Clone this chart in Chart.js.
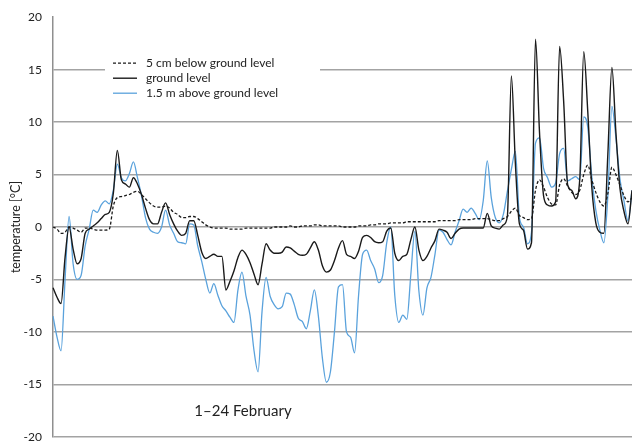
<!DOCTYPE html>
<html>
<head>
<meta charset="utf-8">
<script src="https://cdn.jsdelivr.net/npm/chart.js@4"></script>
<style>
  html, body { margin: 0; padding: 0; background: #fff; overflow: hidden; }
  #wrap { width: 632px; height: 441px; overflow: hidden; }
  #c { display: block; margin-top: -1px; }
</style>
</head>
<body>
<div id="wrap"><canvas id="c" width="632" height="456"></canvas></div>
<script>
// Time axis: hours since 1 February 00:00, 4-hour steps
const hours = [
  0,4,8,12,16,20,24,28,32,36,40,44,48,52,56,60,64,68,72,76,80,84,88,92,
  96,100,104,108,112,116,120,124,128,132,136,140,144,148,152,156,160,164,168,172,176,180,184,188,
  192,196,200,204,208,212,216,220,224,228,232,236,240,244,248,252,256,260,264,268,272,276,280,284,
  288,292,296,300,304,308,312,316,320,324,328,332,336,340,344,348,352,356,360,364,368,372,376,380,
  384,388,392,396,400,404,408,412,416,420,424,428,432,436,440,444,448,452,456,460,464,468,472,476,
  480,484,488,492,496,500,504,508,512,516,520,524,528,532,536,540,544,548,552,556,560,564,568,572,
  576
];

// Temperature 5 cm below ground level [°C]
const below5cm = [
  0.0,-0.2,-0.6,-0.5,0.0,-0.1,-0.3,-0.5,-0.1,-0.1,
  -0.2,-0.3,-0.3,-0.3,-0.2,2.0,2.8,2.9,3.0,3.1,
  3.3,3.4,3.1,2.7,2.3,2.0,1.9,1.9,2.0,1.8,
  1.4,1.2,0.9,0.9,1.0,1.0,0.8,0.5,0.2,0.0,
  -0.1,-0.1,-0.1,-0.1,-0.2,-0.2,-0.2,-0.2,-0.1,-0.1,
  -0.1,-0.1,-0.1,-0.1,-0.1,0.0,0.0,0.0,0.0,0.1,
  0.0,0.0,0.1,0.1,0.1,0.2,0.2,0.1,0.1,0.1,
  0.1,0.1,0.0,0.0,0.0,0.0,0.1,0.1,0.1,0.2,
  0.2,0.3,0.3,0.3,0.4,0.4,0.4,0.4,0.5,0.5,
  0.5,0.5,0.5,0.5,0.5,0.5,0.6,0.6,0.6,0.6,
  0.6,0.7,0.7,0.7,0.7,0.8,0.8,0.8,0.8,0.7,
  0.6,0.6,0.8,1.0,1.5,1.8,1.1,0.9,0.7,0.8,
  3.5,4.5,3.8,2.8,2.2,2.1,4.0,4.6,3.9,3.3,
  3.1,3.5,5.0,5.9,4.5,3.3,2.4,2.0,3.2,5.7,
  5.0,4.0,3.0,2.4,2.8
];

// Temperature at ground level [°C]
const groundLevel = [
  -5.8,-6.7,-7.3,-2.9,0.0,-2.1,-3.5,-3.0,-0.6,-0.2,
  0.1,0.4,0.8,1.2,1.4,3.2,7.3,4.5,4.1,3.8,
  4.7,4.1,3.1,1.8,0.7,0.3,0.3,1.4,2.3,1.2,
  0.3,-0.4,-0.8,-0.6,0.6,0.6,-0.8,-2.4,-3.0,-2.8,
  -2.6,-2.8,-2.8,-6.0,-5.2,-4.2,-2.9,-2.2,-2.6,-3.4,
  -4.5,-5.5,-3.5,-1.6,-2.2,-2.5,-2.5,-2.4,-1.9,-2.0,
  -2.3,-2.6,-2.7,-2.6,-2.0,-1.4,-2.2,-3.7,-4.3,-4.1,
  -3.2,-2.0,-1.3,-2.6,-2.8,-3.0,-2.3,-1.0,-0.8,-1.0,
  -1.4,-1.5,-1.4,-0.4,-0.1,-2.5,-3.2,-2.8,-2.6,-1.2,
  0.0,-2.2,-3.2,-2.8,-2.0,-1.3,-0.2,-0.3,-0.5,-1.1,
  -0.6,-0.2,-0.1,-0.1,-0.1,-0.1,-0.1,-0.1,1.3,0.1,
  -0.1,-0.2,0.2,1.0,14.4,6.0,0.3,-0.3,-2.1,-1.5,
  17.9,9.0,3.0,2.1,2.0,2.4,17.2,12.0,4.0,3.5,
  2.7,4.5,16.7,11.0,3.8,0.4,-0.5,-0.6,7.0,15.2,
  9.0,3.7,1.5,0.3,3.5
];

// Air temperature 1.5 m above ground level [°C]
const above150cm = [
  -8.5,-10.5,-11.8,-5.0,1.0,-3.5,-5.0,-4.6,-1.8,-0.2,
  1.6,1.4,2.1,2.5,2.2,3.5,6.0,4.7,4.4,5.1,
  6.2,4.7,3.0,0.9,-0.2,-0.5,-0.6,0.0,1.6,0.2,
  -0.6,-1.4,-1.5,-1.6,0.3,0.2,-1.8,-3.3,-5.0,-6.3,
  -5.4,-6.5,-7.5,-8.0,-8.6,-9.1,-6.0,-4.3,-6.6,-8.4,
  -11.8,-13.8,-8.0,-4.8,-6.6,-7.4,-7.8,-7.6,-6.3,-6.4,
  -7.4,-8.7,-9.0,-9.7,-8.0,-6.0,-8.5,-12.5,-14.8,-13.8,
  -10.0,-5.7,-5.5,-10.0,-10.5,-12.0,-6.5,-2.6,-2.2,-3.2,
  -4.0,-5.3,-4.6,-1.5,0.0,-6.5,-9.1,-8.4,-8.8,-4.5,
  -0.4,-6.1,-8.4,-5.8,-4.8,-2.6,-0.3,-0.5,-1.2,-1.7,
  -0.5,0.6,1.7,1.4,1.8,1.3,0.7,2.5,6.3,2.8,
  0.9,0.4,1.2,3.4,5.5,7.2,0.9,0.0,-1.6,-0.5,
  8.0,8.5,5.6,4.7,3.8,4.2,7.0,7.5,4.4,4.6,
  4.8,4.5,10.5,9.5,4.8,1.6,-0.3,-1.5,3.0,11.5,
  8.5,4.6,2.5,0.6,3.5
];

const seriesNames = ['5 cm below ground level', 'ground level', '1.5 m above ground level'];
const yTicks = [20, 15, 10, 5, 0, -5, -10, -15, -20];
const yTitle = 'temperature [°C]';
const periodLabel = '1–24 February';

const FONT = 'Lato, "Open Sans", sans-serif';

// Legend panel and period caption drawn inside the plot area
const overlay = {
  id: 'overlay',
  afterDraw(chart) {
    const { ctx, chartArea: a } = chart;
    ctx.save();
    ctx.fillStyle = '#ffffff';
    ctx.fillRect(a.left + 52, a.top + 34, 215, 52);
    chart.data.datasets.forEach((ds, i) => {
      const y = a.top + 46 + i * 15;
      ctx.beginPath();
      ctx.strokeStyle = ds.borderColor;
      ctx.lineWidth = ds.borderWidth;
      ctx.setLineDash(ds.borderDash || []);
      ctx.moveTo(a.left + 60, y);
      ctx.lineTo(a.left + 84, y);
      ctx.stroke();
      ctx.setLineDash([]);
      ctx.fillStyle = '#222';
      ctx.font = '12px ' + FONT;
      ctx.textAlign = 'left';
      ctx.textBaseline = 'middle';
      ctx.fillText(ds.label, a.left + 93, y);
    });
    ctx.font = '15px ' + FONT;
    ctx.textAlign = 'center';
    ctx.textBaseline = 'middle';
    ctx.fillStyle = '#222';
    ctx.fillText(periodLabel, a.left + 190, a.top + 394);
    ctx.restore();
  }
};

new Chart(document.getElementById('c'), {
  type: 'line',
  data: {
    labels: hours,
    datasets: [
      { label: seriesNames[0], data: below5cm, borderColor: '#1a1a1a', borderWidth: 1.3, borderDash: [3, 2] },
      { label: seriesNames[1], data: groundLevel, borderColor: '#1a1a1a', borderWidth: 1.4 },
      { label: seriesNames[2], data: above150cm, borderColor: '#5aa2dc', borderWidth: 1.3 }
    ]
  },
  options: {
    responsive: false,
    animation: false,
    events: [],
    layout: { padding: { top: 18, right: 0, bottom: 18, left: 0 } },
    elements: {
      point: { radius: 0 },
      line: { cubicInterpolationMode: 'monotone', fill: false }
    },
    plugins: { legend: { display: false }, tooltip: { enabled: false } },
    scales: {
      x: { type: 'category', display: false, offset: false },
      y: {
        min: -20, max: 20,
        afterBuildTicks(scale) { scale.ticks = yTicks.map(v => ({ value: v })); },
        afterFit(scale) { scale.width = 53; },
        ticks: { font: { family: FONT, size: 12 }, color: '#222', padding: 11 },
        grid: {
          color: ctx => (ctx.tick && ctx.tick.value === 20 ? 'rgba(0,0,0,0)' : '#a3a3a3'),
          lineWidth: 1.5,
          drawTicks: false,
          tickLength: 0
        },
        border: { color: '#8f8f8f', width: 1.5 },
        title: { display: true, text: yTitle, font: { family: FONT, size: 12.5 }, color: '#222', padding: { top: 8, bottom: 0 } }
      }
    }
  },
  plugins: [overlay]
});
</script>
</body>
</html>
